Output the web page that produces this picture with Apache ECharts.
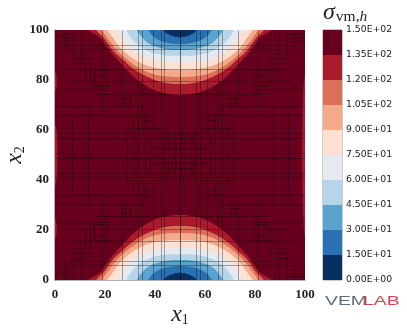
<!DOCTYPE html>
<html>
<head>
<meta charset="utf-8">
<style>html,body{margin:0;padding:0;background:#fff}#main{width:407px;height:330px}</style>
<script src="https://cdn.jsdelivr.net/npm/echarts@6/dist/echarts.min.js"></script>
</head>
<body>
<div id="main"></div>
<script>
// colour bands, lowest first
var bandColors = ['#053061','#2971b1','#5ba3cf','#b6d5e8','#e4eaf0','#fde0d1','#f4a98a','#dd6f58','#a91a2d','#67001f'];
var bandTicks = ['0.00E+00','1.50E+01','3.00E+01','4.50E+01','6.00E+01','7.50E+01','9.00E+01','1.05E+02','1.20E+02','1.35E+02','1.50E+02'];
var bandWidth = [15,15,15,15,15,15,15,15,15,15];

// contour lines: [x1, distance from the lobe edge], left half of a lobe
var contour135 = [[13.5,0],[18,3],[22,8.5],[26,13],[30.7,18],[35.5,21.8],[40.7,24.4],[46,25.7],[50,26]];
var contour120 = [[16.5,0],[19.3,2.9],[23.3,8.3],[27.3,12],[31.3,15.4],[36.7,18.6],[43.3,21],[50,21.6]];
var contour105 = [[18.8,0],[21.3,3.7],[24.7,8],[28.7,11.7],[34,15.4],[40.7,18],[50,18.8]];
var contour90 = [[21,0],[22.7,2.5],[26,7],[30,10.6],[35.3,13.6],[42,15.5],[50,15.9]];
var contour75 = [[24.8,0],[26.5,3],[29.8,6.8],[34,10],[40.7,12.3],[50,12.9]];
var contour60 = [[28.5,0],[30,2.6],[33,5.8],[37.3,8.5],[43.3,10],[50,10.3]];
var contour45 = [[32.8,0],[34.5,2.6],[37.5,5.4],[43.3,7.5],[50,8]];
var contour30 = [[37.3,0],[39,2.3],[42,4.2],[46,5.3],[50,5.6]];
var contour15 = [[43.3,0],[46,2],[50,2.9]];
var lobeContours = [contour135,contour120,contour105,contour90,contour75,contour60,contour45,contour30,contour15];

// thin lighter strips along the side edges
var leftStrip = [[0,37],[0.9,42],[1,50],[0.9,58],[0,63]];
var leftSpotLow = [[0,16],[0.7,19],[0.7,22],[0,25]];
var leftSpotHigh = [[0,75],[0.7,78],[0.7,81],[0,84]];
var rightStrip = [[100,17],[99.4,22],[99,35],[98.8,50],[99,65],[99.4,78],[100,83]];

// mesh lines of the lower left quarter, mirrored onto the other three
// vertical: [x1, from x2, to x2], horizontal: [x2, from x1, to x1]
var meshVertical = [
  [4,0,8],[7.3,0,12],[10.3,0,15.6],[12,9,20],[14,12,22],[15.5,16,23],[18.7,0,34],[20.7,15,24],
  [6.8,35,50],[13,30,50],[26.7,0,30],[28,25,32],[30,26,31],[28.8,38,50],[31,34,50],
  [33.3,0,50],[34.7,0,40],[36,32,50],[39.3,0,40],[38,42,50],[42.2,0,50],[43.7,0,50],[45,40,48],[50,0,50],[48,41,50]
];
var meshHorizontal = [
  [1.7,0,7],[2.7,0,6],[4.4,0,6.5],[6,0.7,50],[7.6,6,50],[9,7,11],[11,8,14],[13,7,11],[15.6,5,50],
  [16,15,21],[18,15,21],[20.3,5,50],[22.3,15,21],[23.4,0,20.7],[25.7,16,50],[27,26,30],[29,26,30],[30.5,0,35],
  [34,0,40],[36,34.7,39.3],[39,30,42],[41.3,0,50],[43,0,50],[45,44,50],[47,38,50],[49,0,50]
];

var plotFills = [{points:[[0,0],[100,0],[100,100],[0,100]],color:bandColors[9],smooth:0}];
[leftStrip,leftSpotLow,leftSpotHigh,rightStrip].forEach(function(s){
  plotFills.push({points:s,color:bandColors[8],smooth:0});
});
// a lobe at the bottom edge and its twin at the top edge, run past the plot edge so the clip cuts it flat
lobeContours.forEach(function(c,i){
  var start=[c[0][0]-2,-5];
  var low=[start],high=[[start[0],105]];
  c.forEach(function(p){low.push([p[0],p[1]]);high.push([p[0],100-p[1]]);});
  c.slice().reverse().slice(1).forEach(function(p){
    low.push([100-p[0],p[1]]);high.push([100-p[0],100-p[1]]);
  });
  low.push([100-start[0],-5]);high.push([100-start[0],105]);
  plotFills.push({points:low,color:bandColors[8-i],smooth:0.4});
  plotFills.push({points:high,color:bandColors[8-i],smooth:0.4});
});

var meshLines = [];
function mirrorSegment(a,b,c,d){
  meshLines.push([a,b,c,d],[100-a,b,100-c,d],[a,100-b,c,100-d],[100-a,100-b,100-c,100-d]);
}
meshVertical.forEach(function(m){mirrorSegment(m[0],m[1],m[0],m[2]);});
meshHorizontal.forEach(function(m){mirrorSegment(m[1],m[0],m[2],m[0]);});

var mathRich = {
  i:{fontFamily:'Liberation Serif',fontStyle:'italic',fontWeight:'normal',fontSize:24,color:'#222'},
  s:{fontFamily:'Liberation Serif',fontWeight:'normal',fontSize:14,color:'#222',padding:[10,0,0,0]}
};
var tickFont = {fontFamily:'Liberation Serif',fontWeight:'bold',fontSize:13,color:'#222'};

var chart = echarts.init(document.getElementById('main'),null,{renderer:'canvas'});
var bandSeries = bandWidth.map(function(w,i){
  return {type:'bar',xAxisIndex:1,yAxisIndex:1,stack:'bar',barWidth:'100%',data:[w],silent:true,
    itemStyle:{color:bandColors[i]}};
});
chart.setOption({
  animation:false,
  title:{
    left:323,top:1,padding:0,
    text:'{a|σ}{b|vm,}{c|h}',
    textStyle:{fontWeight:'normal',rich:{
      a:{fontFamily:'Liberation Serif',fontStyle:'italic',fontWeight:'normal',fontSize:24,color:'#222'},
      b:{fontFamily:'Liberation Serif',fontWeight:'normal',fontSize:15.5,color:'#222',padding:[8,0,0,1]},
      c:{fontFamily:'Liberation Serif',fontStyle:'italic',fontWeight:'normal',fontSize:15.5,color:'#222',padding:[8,0,0,0]}
    }}
  },
  grid:[
    {left:55,top:30,width:250,height:250,outerBoundsMode:'none'},
    {left:323,top:30,width:19,height:250,show:true,borderColor:'#999',borderWidth:1,backgroundColor:'transparent',outerBoundsMode:'none'}
  ],
  xAxis:[
    {type:'value',gridIndex:0,min:0,max:100,interval:20,splitLine:{show:false},axisTick:{show:false},
      axisLine:{onZero:false,lineStyle:{color:'#999',width:1.5}},
      axisLabel:Object.assign({margin:8},tickFont),
      name:'{i|x}{s|1}',nameLocation:'middle',nameGap:23,nameMoveOverlap:false,nameTextStyle:{rich:mathRich}},
    {type:'category',gridIndex:1,data:['bar'],show:false}
  ],
  yAxis:[
    {type:'value',gridIndex:0,min:0,max:100,interval:20,splitLine:{show:false},axisTick:{show:false},
      axisLine:{onZero:false,lineStyle:{color:'#999',width:1.5}},
      axisLabel:Object.assign({margin:6},tickFont),
      name:'{i|x}{s|2}',nameLocation:'middle',nameGap:28,nameMoveOverlap:false,nameRotate:90,nameTextStyle:{rich:mathRich}},
    {type:'value',gridIndex:1,min:0,max:150,interval:15,position:'right',splitLine:{show:false},
      axisLine:{show:false},axisTick:{length:2,lineStyle:{color:'#333'}},
      axisLabel:{margin:4,fontFamily:'DejaVu Sans',fontSize:9.3,color:'#222',
        formatter:function(v){return bandTicks[Math.round(v/15)];}}}
  ],
  graphic:[
    {type:'text',left:325,top:295,scaleX:1.55,style:{text:'VEM',fontFamily:'Liberation Sans',fontSize:12.5,fill:'#5d6b7a'}},
    {type:'text',left:363,top:295,scaleX:1.55,style:{text:'LAB',fontFamily:'Liberation Sans',fontSize:12.5,fill:'#d9434f'}}
  ],
  series:[
    {type:'custom',xAxisIndex:0,yAxisIndex:0,silent:true,clip:true,
      data:plotFills.map(function(f,i){return [i,0];}),
      renderItem:function(params,api){
        var f=plotFills[api.value(0)];
        return {type:'polygon',shape:{points:f.points.map(function(p){return api.coord(p);}),smooth:f.smooth},
          style:{fill:f.color}};
      }},
    {type:'custom',xAxisIndex:0,yAxisIndex:0,silent:true,clip:true,z:3,
      data:meshLines,
      renderItem:function(params,api){
        var a=api.coord([api.value(0),api.value(1)]);
        var b=api.coord([api.value(2),api.value(3)]);
        return {type:'line',shape:{
            x1:Math.round(a[0])+0.5,y1:Math.round(a[1])+0.5,
            x2:Math.round(b[0])+0.5,y2:Math.round(b[1])+0.5},
          style:{stroke:'rgba(0,0,0,0.33)',lineWidth:1}};
      }}
  ].concat(bandSeries)
});
</script>
</body>
</html>
